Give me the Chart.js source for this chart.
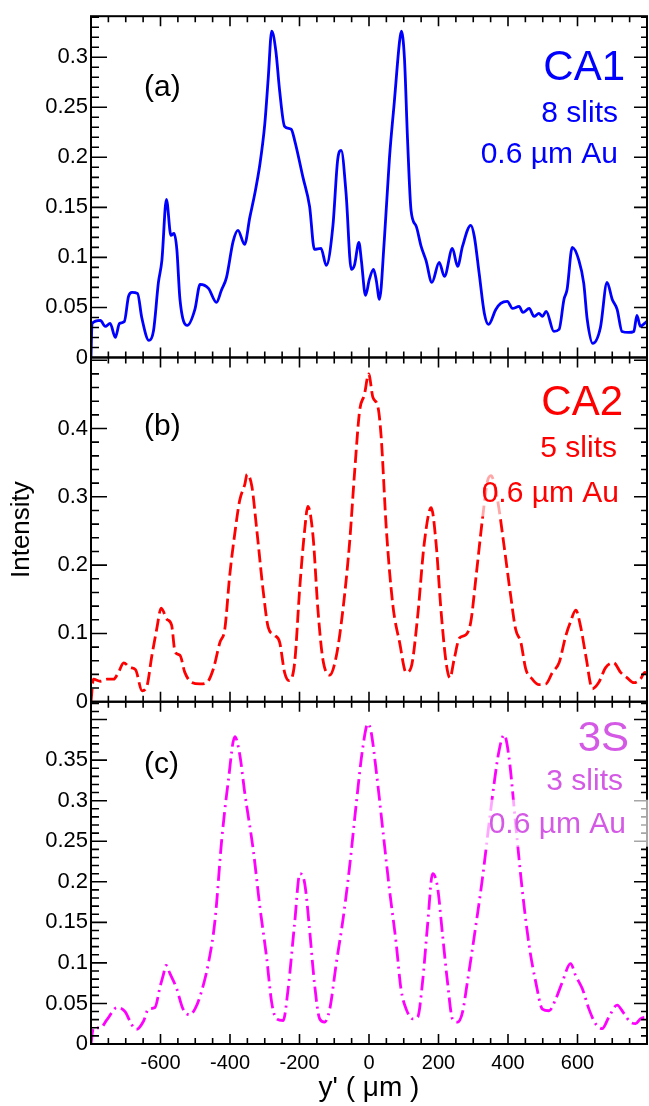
<!DOCTYPE html>
<html>
<head>
<meta charset="utf-8">
<title>Intensity profiles</title>
<script src="https://cdn.jsdelivr.net/npm/chart.js@4/dist/chart.umd.min.js"></script>
<style>
  html, body { margin: 0; padding: 0; background: #fff; }
  #wrap { width: 649px; height: 1106px; }
</style>
</head>
<body>
<div id="wrap"><canvas id="profiles" width="649" height="1106"></canvas></div>
<script>
// ---- data: y' position (um) and intensity for each sample ----
const ca1X = [
  -800, -797, -773, -759, -745, -730, -718, -704, -692, -682,
  -666, -654, -633, -620, -606, -596, -583, -570, -561, -553,
  -544, -523, -501, -486, -462, -439, -425, -410, -391, -377,
  -358, -343, -329, -314, -300, -290, -280, -268, -257, -243,
  -224, -214, -190, -171, -157, -138, -123, -104, -90, -80,
  -66, -51, -42, -29, -22, -10, 1, 13, 21, 30,
  44, 59, 73, 88, 93, 102, 111, 121, 136, 150,
  164, 181, 202, 217, 240, 255, 269, 293, 303, 317,
  332, 344, 365, 379, 398, 413, 432, 443, 461, 475,
  489, 499, 510, 532, 547, 561, 570, 585, 604, 618,
  628, 644, 666, 685, 700, 714, 728, 747, 762, 771,
  781, 793, 800];
const ca1Y = [
  0, 0.034, 0.037, 0.031, 0.034, 0.020, 0.034, 0.036, 0.061, 0.065,
  0.064, 0.040, 0.017, 0.027, 0.075, 0.097, 0.158, 0.122, 0.124, 0.108,
  0.058, 0.032, 0.048, 0.073, 0.069, 0.055, 0.067, 0.080, 0.116, 0.127,
  0.113, 0.140, 0.163, 0.193, 0.233, 0.279, 0.326, 0.306, 0.266, 0.231,
  0.228, 0.217, 0.180, 0.151, 0.108, 0.109, 0.092, 0.131, 0.198, 0.207,
  0.164, 0.088, 0.092, 0.115, 0.097, 0.062, 0.078, 0.088, 0.077, 0.058,
  0.117, 0.200, 0.256, 0.316, 0.326, 0.299, 0.217, 0.147, 0.131, 0.111,
  0.097, 0.075, 0.095, 0.081, 0.109, 0.091, 0.111, 0.132, 0.121, 0.084,
  0.044, 0.033, 0.048, 0.054, 0.056, 0.049, 0.051, 0.045, 0.049, 0.041,
  0.044, 0.041, 0.046, 0.026, 0.028, 0.058, 0.068, 0.110, 0.097, 0.074,
  0.038, 0.014, 0.030, 0.075, 0.058, 0.048, 0.026, 0.025, 0.026, 0.042,
  0.031, 0.034, 0.036];

const ca2X = [
  -800, -793, -773, -754, -735, -721, -706, -687, -672, -653,
  -639, -625, -611, -598, -582, -568, -558, -544, -530, -510,
  -486, -467, -448, -429, -415, -401, -386, -372, -357, -351,
  -337, -323, -304, -290, -271, -257, -243, -230, -214, -199,
  -185, -176, -161, -147, -133, -113, -94, -75, -56, -41,
  -27, -13, -1, 11, 26, 35, 50, 69, 88, 107,
  121, 140, 159, 179, 193, 207, 222, 233, 245, 260,
  279, 293, 308, 327, 341, 351, 370, 389, 408, 422,
  437, 451, 470, 489, 509, 528, 547, 566, 580, 595,
  609, 624, 643, 661, 681, 704, 724, 743, 762, 781,
  794, 800];
const ca2Y = [
  0, 0.033, 0.030, 0.033, 0.033, 0.043, 0.057, 0.050, 0.047, 0.016,
  0.023, 0.067, 0.106, 0.137, 0.121, 0.112, 0.073, 0.068, 0.043, 0.028,
  0.026, 0.028, 0.048, 0.087, 0.106, 0.184, 0.247, 0.295, 0.319, 0.333,
  0.315, 0.252, 0.160, 0.109, 0.097, 0.087, 0.043, 0.031, 0.057, 0.169,
  0.252, 0.286, 0.242, 0.135, 0.063, 0.039, 0.067, 0.135, 0.232, 0.339,
  0.426, 0.450, 0.480, 0.446, 0.431, 0.388, 0.252, 0.140, 0.087, 0.043,
  0.050, 0.125, 0.232, 0.284, 0.232, 0.135, 0.057, 0.035, 0.062, 0.093,
  0.098, 0.117, 0.183, 0.270, 0.323, 0.331, 0.295, 0.227, 0.154, 0.106,
  0.087, 0.048, 0.033, 0.025, 0.026, 0.043, 0.057, 0.096, 0.117, 0.134,
  0.110, 0.067, 0.019, 0.028, 0.050, 0.057, 0.043, 0.035, 0.028, 0.033,
  0.043, 0.040];

const s3X = [
  -800, -793, -773, -754, -725, -702, -683, -669, -649, -635,
  -616, -601, -592, -584, -573, -554, -535, -516, -501, -486,
  -462, -443, -424, -405, -386, -372, -357, -333, -314, -295,
  -280, -266, -247, -233, -214, -199, -185, -171, -157, -142,
  -128, -113, -94, -75, -56, -37, -18, -3, 6, 21,
  40, 59, 78, 92, 107, 126, 140, 154, 169, 183,
  197, 212, 226, 240, 255, 269, 283, 303, 327, 351,
  374, 389, 403, 422, 441, 461, 480, 499, 518, 537,
  556, 580, 595, 614, 633, 652, 671, 690, 714, 733,
  752, 767, 781, 794, 800];
const s3Y = [
  0, 0.020, 0.020, 0.030, 0.045, 0.040, 0.024, 0.018, 0.028, 0.043,
  0.045, 0.071, 0.085, 0.097, 0.087, 0.069, 0.043, 0.036, 0.043, 0.059,
  0.100, 0.153, 0.251, 0.324, 0.379, 0.357, 0.308, 0.239, 0.169, 0.108,
  0.051, 0.031, 0.029, 0.067, 0.149, 0.210, 0.198, 0.141, 0.075, 0.031,
  0.027, 0.043, 0.100, 0.153, 0.218, 0.295, 0.365, 0.395, 0.385, 0.336,
  0.263, 0.190, 0.125, 0.068, 0.043, 0.031, 0.033, 0.076, 0.149, 0.210,
  0.194, 0.133, 0.076, 0.031, 0.027, 0.039, 0.076, 0.133, 0.206, 0.291,
  0.361, 0.381, 0.353, 0.271, 0.190, 0.121, 0.076, 0.043, 0.041, 0.055,
  0.076, 0.099, 0.084, 0.068, 0.043, 0.025, 0.019, 0.033, 0.048, 0.038,
  0.027, 0.025, 0.031, 0.033, 0.032];

// tick labels
const xTicks = [-600, -400, -200, 0, 200, 400, 600];
const aTicks = [0, 0.05, 0.1, 0.15, 0.2, 0.25, 0.3];
const bTicks = [0, 0.1, 0.2, 0.3, 0.4];
const cTicks = [0, 0.05, 0.1, 0.15, 0.2, 0.25, 0.3, 0.35];

// panel captions
const panelTags = ['(a)', '(b)', '(c)'];
const sampleNames = ['CA1', 'CA2', '3S'];
const slitCounts = ['8 slits', '5 slits', '3 slits'];
const coating = '0.6 µm Au';

const FONT = '"Liberation Sans", Arial, Helvetica, sans-serif';
Chart.defaults.font.family = FONT;
Chart.defaults.color = '#000';

function pts(xs, ys) {
  return xs.map((x, i) => ({ x: x, y: ys[i] }));
}

function yAxis(max, ticks, weight, order) {
  return {
    type: 'linear',
    position: 'left',
    stack: 'panels',
    stackWeight: weight,
    weight: order,
    min: 0,
    max: max,
    afterBuildTicks: s => { s.ticks = ticks.map(v => ({ value: v })); },
    afterFit: s => { s.width = 91; },
    grid: { display: false, drawTicks: false, tickLength: 0 },
    border: { display: false },
    ticks: {
      font: { size: 22 },
      padding: 3,
      color: '#000',
      autoSkip: false,
      callback: v => String(+v.toFixed(3))
    }
  };
}

// layout of each panel: minor/major tick steps and caption placement
const panels = [
  { axis: 'ya', minor: 0.01, major: 0.05, color: '#0000ff',
    tagY: 80, nameY: 64, slitY: 106, coatY: 147, nameR: 22, slitR: 29, coatR: 29, veil: false },
  { axis: 'yb', minor: 0.02, major: 0.1, color: '#ff0000',
    tagY: 78, nameY: 58, slitY: 100, coatY: 145, nameR: 24, slitR: 30, coatR: 28, veil: true },
  { axis: 'yc', minor: 0.01, major: 0.05, color: '#d45ae6',
    tagY: 71, nameY: 49, slitY: 88, coatY: 131, nameR: 18, slitR: 24, coatR: 21, veil: true, veilToEdge: true }
];

// frames, inward ticks and captions for the three stacked panels
const panelDecor = {
  id: 'panelDecor',
  afterDatasetsDraw(chart) {
    const ctx = chart.ctx;
    const xs = chart.scales.x;
    panels.forEach((p, k) => {
      const ys = chart.scales[p.axis];
      const L = xs.left, R = xs.right, T = ys.top, B = ys.bottom;
      ctx.save();
      ctx.strokeStyle = '#000';
      ctx.lineWidth = 1.6;
      ctx.beginPath();
      for (let v = xs.min + 50; v < xs.max; v += 50) {
        const px = xs.getPixelForValue(v);
        const len = v % 200 === 0 ? 10 : 6;
        ctx.moveTo(px, T); ctx.lineTo(px, T + len);
        ctx.moveTo(px, B); ctx.lineTo(px, B - len);
      }
      for (let i = 1; i * p.minor < ys.max - 1e-9; i++) {
        const v = i * p.minor;
        const py = ys.getPixelForValue(v);
        const r = v / p.major;
        const major = Math.abs(r - Math.round(r)) < 1e-6;
        ctx.moveTo(L, py); ctx.lineTo(L + (major ? 16 : 8), py);
        ctx.moveTo(R, py); ctx.lineTo(R - (major ? 13 : 6), py);
      }
      ctx.stroke();
      ctx.lineWidth = 2;
      ctx.strokeRect(L, T, R - L, B - T);

      // captions
      ctx.textBaseline = 'alphabetic';
      ctx.fillStyle = '#000';
      ctx.textAlign = 'left';
      ctx.font = '30px ' + FONT;
      ctx.fillText(panelTags[k], L + 53, T + p.tagY);

      ctx.textAlign = 'right';
      ctx.font = '30px ' + FONT;
      if (p.veil) {
        const w = ctx.measureText(coating).width;
        const right = p.veilToEdge ? R + 2 : R - p.coatR + 4;
        const left = R - p.coatR - w - 4;
        ctx.fillStyle = 'rgba(255,255,255,0.65)';
        ctx.fillRect(left, T + p.coatY - 33, right - left, 47);
      }
      ctx.fillStyle = p.color;
      ctx.fillText(coating, R - p.coatR, T + p.coatY);
      ctx.fillText(slitCounts[k], R - p.slitR, T + p.slitY);
      ctx.font = '42px ' + FONT;
      ctx.fillText(sampleNames[k], R - p.nameR, T + p.nameY);
      ctx.restore();
    });
  }
};

new Chart(document.getElementById('profiles'), {
  type: 'line',
  data: {
    datasets: [
      {
        label: 'CA1',
        data: pts(ca1X, ca1Y),
        yAxisID: 'ya',
        borderColor: '#0000ff',
        borderWidth: 2.8,
        pointRadius: 0,
        cubicInterpolationMode: 'monotone',
        fill: false
      },
      {
        label: 'CA2',
        data: pts(ca2X, ca2Y),
        yAxisID: 'yb',
        borderColor: '#ff0000',
        borderWidth: 2.8,
        borderDash: [13, 5],
        pointRadius: 0,
        cubicInterpolationMode: 'monotone',
        fill: false
      },
      {
        label: '3S',
        data: pts(s3X, s3Y),
        yAxisID: 'yc',
        borderColor: '#ff00ff',
        borderWidth: 2.8,
        borderDash: [15, 5, 2, 5],
        pointRadius: 0,
        cubicInterpolationMode: 'monotone',
        fill: false
      }
    ]
  },
  options: {
    responsive: false,
    animation: false,
    devicePixelRatio: 1,
    layout: { padding: { top: 8, right: 2, bottom: 0, left: 0 } },
    plugins: { legend: { display: false }, tooltip: { enabled: false } },
    scales: {
      x: {
        type: 'linear',
        position: 'bottom',
        min: -800,
        max: 800,
        afterBuildTicks: s => { s.ticks = xTicks.map(v => ({ value: v })); },
        afterFit: s => { s.height = 62; },
        grid: { display: false, drawTicks: false, tickLength: 0 },
        border: { display: false },
        ticks: { font: { size: 20 }, padding: 7, color: '#000', maxRotation: 0, autoSkip: false,
                 callback: v => String(v) },
        title: { display: true, text: "y' ( μm )", font: { size: 28 }, color: '#000',
                 padding: { top: 0, bottom: 1 } }
      },
      ya: yAxis(0.341, aTicks, 344, 3),
      yb: Object.assign(yAxis(0.504, bTicks, 347, 2), {
        title: { display: true, text: 'Intensity', font: { size: 26 }, color: '#000',
                 padding: { top: 6, bottom: 0 } }
      }),
      yc: yAxis(0.422, cTicks, 345, 1)
    }
  },
  plugins: [panelDecor]
});
</script>
</body>
</html>
